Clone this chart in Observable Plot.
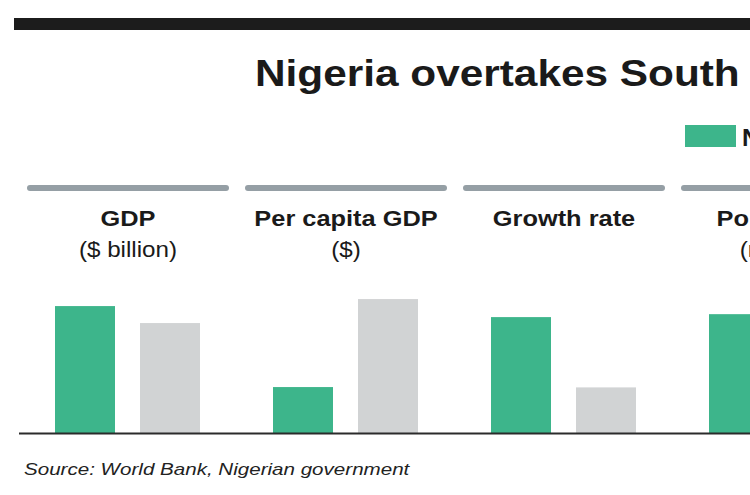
<!DOCTYPE html>
<html><head><meta charset="utf-8">
<script src="https://cdn.jsdelivr.net/npm/d3@7"></script>
<script src="https://cdn.jsdelivr.net/npm/@observablehq/plot@0.6"></script>
<style>
html,body{margin:0;padding:0;background:#fff;overflow:hidden;width:750px;height:495px;}
#chart{position:relative;width:1130px;height:495px;font-family:"Liberation Sans",Arial,Helvetica,sans-serif;color:#1a1a1a;}
.abs{position:absolute;white-space:nowrap;line-height:1;}
</style></head><body><div id="chart"></div>
<script>
// ---- data ----
const titleWords = ["Nigeria overtakes South", "Africa"];
const source = "Source: World Bank, Nigerian government";
const countries = ["Nigeria", "South Africa"];
const countryColors = ["#3db58b", "#d1d3d4"];
const metrics = ["GDP", "Per capita GDP", "Growth rate", "Population"];
const units = ["($ billion)", "($)", "", "(million)"];
const nigeriaValues = [501, 2720, 6.1, 172];
const southAfricaValues = [434, 7930, 2.4, 53];
const axisMax = [600, 9000, 8, 220];

// ---- layout ----
const chart = document.getElementById("chart");
function box(css) {
  const d = document.createElement("div");
  d.className = "abs";
  Object.assign(d.style, css);
  chart.appendChild(d);
  return d;
}
function txt(str, o) {
  const fs = o.size;
  const d = box({
    top: (o.baseline - 0.8465 * fs) + "px",
    left: o.x + "px",
    fontSize: fs + "px",
    fontWeight: o.weight || "normal",
    fontStyle: o.style || "normal",
    color: o.color || "#1a1a1a",
    transformOrigin: "0 0"
  });
  d.textContent = str;
  const sx = o.sx || 1;
  if (o.anchor === "middle") { d.style.transform = `translateX(-50%) scaleX(${sx})`; d.style.transformOrigin = "50% 0"; }
  else d.style.transform = `scaleX(${sx})`;
  return d;
}

// black top band
box({left: "14px", top: "18px", width: "1110px", height: "12px", background: "#1c1c1c"});

// title
const t = txt("", {x: 255, baseline: 86.7, size: 36.5, weight: "bold", sx: 1.16});
const s1 = document.createElement("span"); s1.textContent = titleWords[0];
const s2 = document.createElement("span"); s2.textContent = titleWords[1]; s2.style.marginLeft = "16px";
t.appendChild(s1); t.appendChild(s2);

// legend
countries.forEach((c, i) => {
  const lx = 685 + i * 150;
  box({left: lx + "px", top: "125px", width: "51px", height: "22px", background: countryColors[i]});
  txt(c, {x: lx + 57, baseline: 146, size: 23, weight: "bold", sx: 1.08});
});

// panels
const pitch = 218.2, firstCenter = 127.5;
metrics.forEach((m, i) => {
  const cx = firstCenter + pitch * i;
  box({left: (cx - 101) + "px", top: "185px", width: "202px", height: "6px", borderRadius: "3px", background: "#959fa5"});
  txt(m, {x: cx, baseline: 227.5, size: 21.5, weight: "bold", anchor: "middle", sx: 1.18});
  if (units[i]) txt(units[i], {x: cx, baseline: 257.5, size: 22, anchor: "middle", sx: 1.1});

  const data = countries.map((c, j) => ({country: c, value: (j === 0 ? nigeriaValues : southAfricaValues)[i]}));
  const svg = Plot.plot({
    width: 218, height: 154,
    marginTop: 0, marginBottom: 2, marginLeft: 0, marginRight: 0,
    x: {domain: countries, paddingInner: 0.291, paddingOuter: 0.413, axis: null},
    y: {domain: [0, axisMax[i]], axis: null},
    color: {domain: countries, range: countryColors},
    marks: [
      Plot.barY(data, {x: "country", y: "value", fill: "country"}),
      Plot.ruleY([0], {stroke: "#2b2b2b", strokeWidth: 2})
    ]
  });
  const holder = box({left: (cx - 109) + "px", top: "281px"});
  holder.style.lineHeight = "0";
  svg.style.display = "block";
  holder.appendChild(svg);
});

// source
txt(source, {x: 24, baseline: 475, size: 17, style: "italic", sx: 1.21, color: "#222"});
</script></body></html>
